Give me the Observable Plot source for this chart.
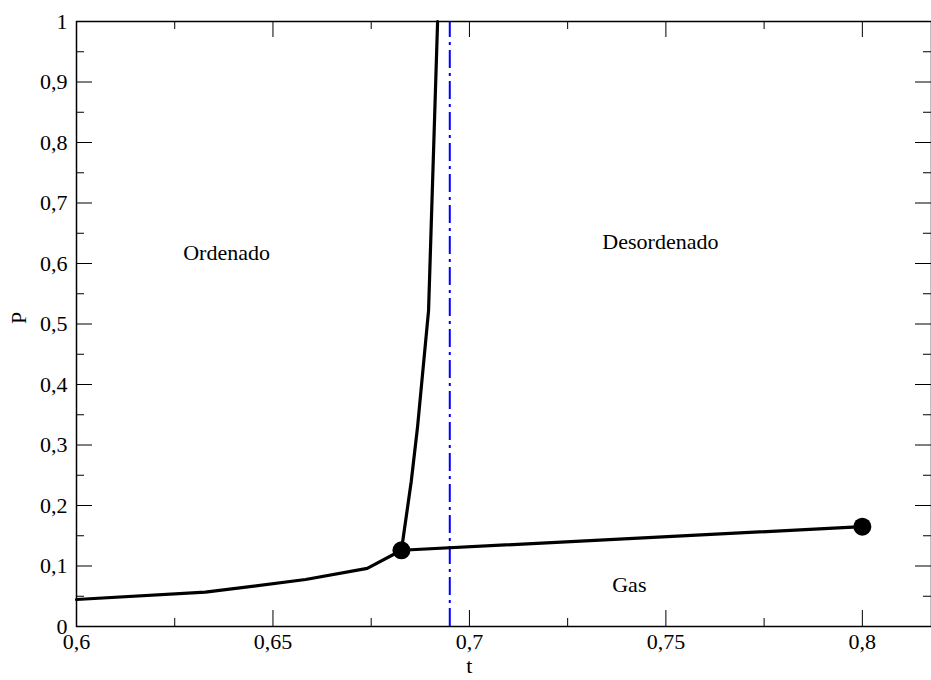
<!DOCTYPE html>
<html>
<head>
<meta charset="utf-8">
<script src="https://cdn.jsdelivr.net/npm/d3@7"></script>
<script src="https://cdn.jsdelivr.net/npm/@observablehq/plot@0.6"></script>
<style>
  html, body { margin: 0; padding: 0; background: #fff; }
  #chart svg { display: block; }
  #chart svg text { font-family: 'Liberation Serif', 'Times New Roman', Times, serif; }
</style>
</head>
<body>
<div id="chart"></div>
<script>
// Coexistence line between the ordered phase and the gas (low pressure branch)
const lowerT = [0.6, 0.6328, 0.6583, 0.674, 0.6827];
const lowerP = [0.0446, 0.0567, 0.0777, 0.096, 0.126];

// Order–disorder transition line rising from the triple point
const upperT = [0.6827, 0.6852, 0.6868, 0.6896, 0.6919];
const upperP = [0.126, 0.24, 0.33, 0.522, 1.0];

// Disordered-fluid / gas coexistence line, ending at the critical point
const gasT = [0.6827, 0.8];
const gasP = [0.126, 0.165];

// Triple point and critical point
const pointT = [0.6827, 0.8];
const pointP = [0.126, 0.165];

// Reference temperature (dash-dot vertical)
const refT = 0.695;

// Region labels
const regionText = ["Ordenado", "Desordenado", "Gas"];
const regionT = [0.6382, 0.7486, 0.7407];
const regionP = [0.618, 0.636, 0.068];

// Axis ticks
const tMajor = [0.6, 0.65, 0.7, 0.75, 0.8];
const tMinor = [0.625, 0.675, 0.725, 0.775];
const pMajor = [0, 0.1, 0.2, 0.3, 0.4, 0.5, 0.6, 0.7, 0.8, 0.9, 1];
const pMinor = [0.05, 0.15, 0.25, 0.35, 0.45, 0.55, 0.65, 0.75, 0.85, 0.95];
const tRange = [0.6, 0.8176];
const pRange = [0, 1];

const toRows = (xs, ys) => xs.map((t, i) => ({t, p: ys[i]}));
const lower = toRows(lowerT, lowerP);
const upper = toRows(upperT, upperP);
const gas = toRows(gasT, gasP);
const points = toRows(pointT, pointP);
const regions = regionText.map((text, i) => ({text, t: regionT[i], p: regionP[i]}));

const W = 931, H = 680;
const mL = 76, mR = 0, mT = 21, mB = 54;
const innerW = W - mL - mR, innerH = H - mT - mB;
const majorLen = 16, minorLen = 8;
const comma = d => String(d).replace(".", ",");
const serif = "'Liberation Serif', 'Times New Roman', Times, serif";
const fs = 22;

const chart = Plot.plot({
  width: W,
  height: H,
  marginLeft: mL,
  marginRight: mR,
  marginTop: mT,
  marginBottom: mB,
  style: {fontFamily: serif, fontSize: fs + "px", background: "#fff", color: "#000"},
  x: {domain: tRange},
  y: {domain: pRange},
  marks: [
    // inward ticks on all four sides
    Plot.tickX(tMajor, {x: d => d, insetTop: innerH - majorLen, stroke: "#000"}),
    Plot.tickX(tMinor, {x: d => d, insetTop: innerH - minorLen, stroke: "#000"}),
    Plot.tickX(tMajor, {x: d => d, insetBottom: innerH - majorLen, stroke: "#000"}),
    Plot.tickX(tMinor, {x: d => d, insetBottom: innerH - minorLen, stroke: "#000"}),
    Plot.tickY(pMajor, {y: d => d, insetRight: innerW - majorLen, stroke: "#000"}),
    Plot.tickY(pMinor, {y: d => d, insetRight: innerW - minorLen, stroke: "#000"}),
    Plot.tickY(pMajor, {y: d => d, insetLeft: innerW - majorLen, stroke: "#000"}),
    Plot.tickY(pMinor, {y: d => d, insetLeft: innerW - minorLen, stroke: "#000"}),
    // tick labels
    Plot.axisX(tMajor, {tickSize: 0, tickPadding: 7, tickFormat: comma, label: null, fontSize: fs, fontFamily: serif, fontVariant: "normal"}),
    Plot.axisY(pMajor, {tickSize: 0, tickPadding: 9, tickFormat: comma, label: null, fontSize: fs, fontFamily: serif, fontVariant: "normal"}),
    // axis titles
    Plot.text([{t: 0.7}], {x: "t", frameAnchor: "bottom", dy: 46, text: () => "t", fontSize: fs, fontFamily: serif}),
    Plot.text([{p: 0.5}], {y: "p", frameAnchor: "left", dx: -58, rotate: -90, text: () => "P", fontSize: fs, fontFamily: serif}),
    // phase boundaries
    Plot.ruleX([refT], {x: d => d, y1: pRange[0], y2: pRange[1], stroke: "#0000ff", strokeWidth: 2, strokeDasharray: "18,5,3,5"}),
    Plot.line(lower, {x: "t", y: "p", stroke: "#000", strokeWidth: 3.2}),
    Plot.line(upper, {x: "t", y: "p", stroke: "#000", strokeWidth: 3.2}),
    Plot.line(gas, {x: "t", y: "p", stroke: "#000", strokeWidth: 3.2}),
    Plot.dot(points, {x: "t", y: "p", r: 9, fill: "#000", stroke: "none"}),
    // region labels
    Plot.text(regions, {x: "t", y: "p", text: "text", fontSize: fs, fontFamily: serif}),
    Plot.frame({stroke: "#000", strokeWidth: 1.5})
  ]
});

document.getElementById("chart").append(chart);
</script>
</body>
</html>
